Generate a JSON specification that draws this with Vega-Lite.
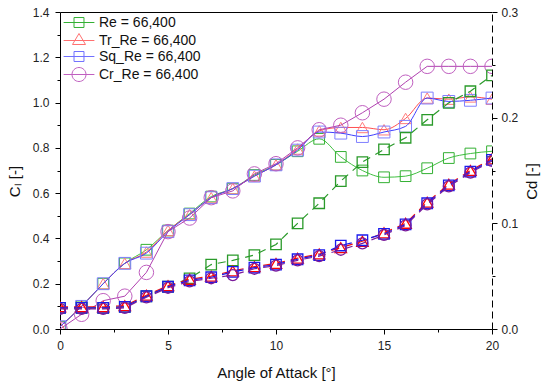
{
  "$schema": "https://vega.github.io/schema/vega-lite/v6.json",
  "width": 432,
  "height": 317,
  "autosize": {"type": "none"},
  "padding": {"left": 60, "top": 12, "right": 58, "bottom": 57},
  "background": "white",
  "config": {
    "view": {"stroke": null},
    "font": "Liberation Sans",
    "axis": {
      "grid": false,
      "domainColor": "#000",
      "domainWidth": 1,
      "tickColor": "#000",
      "labelColor": "#222",
      "labelFont": "Liberation Sans",
      "labelFontSize": 12,
      "titleFont": "Liberation Sans",
      "titleFontSize": 15,
      "titleFontWeight": "normal",
      "titleColor": "#111"
    }
  },
  "data": {
    "values": [
      {"s":"Re = 66,400","a":0,"cl":0.01,"cd":0.020},
      {"s":"Re = 66,400","a":1,"cl":0.10,"cd":0.020},
      {"s":"Re = 66,400","a":2,"cl":0.20,"cd":0.020},
      {"s":"Re = 66,400","a":3,"cl":0.29,"cd":0.021},
      {"s":"Re = 66,400","a":4,"cl":0.35,"cd":0.031},
      {"s":"Re = 66,400","a":5,"cl":0.435,"cd":0.040},
      {"s":"Re = 66,400","a":6,"cl":0.51,"cd":0.048},
      {"s":"Re = 66,400","a":7,"cl":0.585,"cd":0.061},
      {"s":"Re = 66,400","a":8,"cl":0.62,"cd":0.065},
      {"s":"Re = 66,400","a":9,"cl":0.68,"cd":0.070},
      {"s":"Re = 66,400","a":10,"cl":0.725,"cd":0.080},
      {"s":"Re = 66,400","a":11,"cl":0.785,"cd":0.100},
      {"s":"Re = 66,400","a":12,"cl":0.84,"cd":0.119},
      {"s":"Re = 66,400","a":13,"cl":0.76,"cd":0.140},
      {"s":"Re = 66,400","a":14,"cl":0.70,"cd":0.158},
      {"s":"Re = 66,400","a":15,"cl":0.67,"cd":0.170},
      {"s":"Re = 66,400","a":16,"cl":0.675,"cd":0.181},
      {"s":"Re = 66,400","a":17,"cl":0.71,"cd":0.198},
      {"s":"Re = 66,400","a":18,"cl":0.755,"cd":0.214},
      {"s":"Re = 66,400","a":19,"cl":0.775,"cd":0.225},
      {"s":"Re = 66,400","a":20,"cl":0.785,"cd":0.240},
      {"s":"Tr_Re = 66,400","a":0,"cl":0.01,"cd":0.021},
      {"s":"Tr_Re = 66,400","a":1,"cl":0.10,"cd":0.021},
      {"s":"Tr_Re = 66,400","a":2,"cl":0.20,"cd":0.021},
      {"s":"Tr_Re = 66,400","a":3,"cl":0.29,"cd":0.022},
      {"s":"Tr_Re = 66,400","a":4,"cl":0.34,"cd":0.032},
      {"s":"Tr_Re = 66,400","a":5,"cl":0.435,"cd":0.041},
      {"s":"Tr_Re = 66,400","a":6,"cl":0.505,"cd":0.047},
      {"s":"Tr_Re = 66,400","a":7,"cl":0.58,"cd":0.050},
      {"s":"Tr_Re = 66,400","a":8,"cl":0.62,"cd":0.055},
      {"s":"Tr_Re = 66,400","a":9,"cl":0.675,"cd":0.059},
      {"s":"Tr_Re = 66,400","a":10,"cl":0.725,"cd":0.062},
      {"s":"Tr_Re = 66,400","a":11,"cl":0.795,"cd":0.067},
      {"s":"Tr_Re = 66,400","a":12,"cl":0.875,"cd":0.071},
      {"s":"Tr_Re = 66,400","a":13,"cl":0.89,"cd":0.077},
      {"s":"Tr_Re = 66,400","a":14,"cl":0.89,"cd":0.083},
      {"s":"Tr_Re = 66,400","a":15,"cl":0.88,"cd":0.091},
      {"s":"Tr_Re = 66,400","a":16,"cl":0.93,"cd":0.100},
      {"s":"Tr_Re = 66,400","a":17,"cl":1.02,"cd":0.120},
      {"s":"Tr_Re = 66,400","a":18,"cl":1.015,"cd":0.137},
      {"s":"Tr_Re = 66,400","a":19,"cl":1.025,"cd":0.150},
      {"s":"Tr_Re = 66,400","a":20,"cl":1.015,"cd":0.161},
      {"s":"Sq_Re = 66,400","a":0,"cl":0.01,"cd":0.020},
      {"s":"Sq_Re = 66,400","a":1,"cl":0.10,"cd":0.020},
      {"s":"Sq_Re = 66,400","a":2,"cl":0.20,"cd":0.020},
      {"s":"Sq_Re = 66,400","a":3,"cl":0.29,"cd":0.021},
      {"s":"Sq_Re = 66,400","a":4,"cl":0.335,"cd":0.031},
      {"s":"Sq_Re = 66,400","a":5,"cl":0.43,"cd":0.040},
      {"s":"Sq_Re = 66,400","a":6,"cl":0.505,"cd":0.046},
      {"s":"Sq_Re = 66,400","a":7,"cl":0.58,"cd":0.049},
      {"s":"Sq_Re = 66,400","a":8,"cl":0.62,"cd":0.054},
      {"s":"Sq_Re = 66,400","a":9,"cl":0.675,"cd":0.058},
      {"s":"Sq_Re = 66,400","a":10,"cl":0.725,"cd":0.061},
      {"s":"Sq_Re = 66,400","a":11,"cl":0.79,"cd":0.066},
      {"s":"Sq_Re = 66,400","a":12,"cl":0.87,"cd":0.070},
      {"s":"Sq_Re = 66,400","a":13,"cl":0.865,"cd":0.079},
      {"s":"Sq_Re = 66,400","a":14,"cl":0.85,"cd":0.084},
      {"s":"Sq_Re = 66,400","a":15,"cl":0.87,"cd":0.090},
      {"s":"Sq_Re = 66,400","a":16,"cl":0.895,"cd":0.099},
      {"s":"Sq_Re = 66,400","a":17,"cl":1.02,"cd":0.119},
      {"s":"Sq_Re = 66,400","a":18,"cl":1.005,"cd":0.136},
      {"s":"Sq_Re = 66,400","a":19,"cl":1.01,"cd":0.149},
      {"s":"Sq_Re = 66,400","a":20,"cl":1.02,"cd":0.160},
      {"s":"Cr_Re = 66,400","a":0,"cl":0.0,"cd":0.019},
      {"s":"Cr_Re = 66,400","a":1,"cl":0.065,"cd":0.019},
      {"s":"Cr_Re = 66,400","a":2,"cl":0.125,"cd":0.019},
      {"s":"Cr_Re = 66,400","a":3,"cl":0.145,"cd":0.020},
      {"s":"Cr_Re = 66,400","a":4,"cl":0.25,"cd":0.030},
      {"s":"Cr_Re = 66,400","a":5,"cl":0.43,"cd":0.039},
      {"s":"Cr_Re = 66,400","a":6,"cl":0.49,"cd":0.045},
      {"s":"Cr_Re = 66,400","a":7,"cl":0.58,"cd":0.048},
      {"s":"Cr_Re = 66,400","a":8,"cl":0.61,"cd":0.051},
      {"s":"Cr_Re = 66,400","a":9,"cl":0.685,"cd":0.057},
      {"s":"Cr_Re = 66,400","a":10,"cl":0.73,"cd":0.060},
      {"s":"Cr_Re = 66,400","a":11,"cl":0.80,"cd":0.065},
      {"s":"Cr_Re = 66,400","a":12,"cl":0.88,"cd":0.069},
      {"s":"Cr_Re = 66,400","a":13,"cl":0.90,"cd":0.075},
      {"s":"Cr_Re = 66,400","a":14,"cl":0.955,"cd":0.081},
      {"s":"Cr_Re = 66,400","a":15,"cl":1.015,"cd":0.089},
      {"s":"Cr_Re = 66,400","a":16,"cl":1.09,"cd":0.098},
      {"s":"Cr_Re = 66,400","a":17,"cl":1.16,"cd":0.118},
      {"s":"Cr_Re = 66,400","a":18,"cl":1.16,"cd":0.135},
      {"s":"Cr_Re = 66,400","a":19,"cl":1.16,"cd":0.148},
      {"s":"Cr_Re = 66,400","a":20,"cl":1.16,"cd":0.159}
    ]
  },
  "layer": [
    {
      "encoding": {
        "x": {
          "field": "a", "type": "quantitative",
          "scale": {"domain": [0, 20], "nice": false, "zero": false},
          "axis": {
            "orient": "bottom",
            "title": "Angle of Attack [°]",
            "values": [0, 2.5, 5, 7.5, 10, 12.5, 15, 17.5, 20],
            "labelExpr": "datum.value % 5 === 0 ? format(datum.value, 'd') : ''",
            "tickSize": {"condition": {"test": "datum.value % 5 !== 0", "value": 3}, "value": 5},
            "labelPadding": 6,
            "labelFlush": false,
            "titleBaseline": "middle",
            "titleY": 43
          }
        },
        "y": {
          "field": "cl", "type": "quantitative",
          "scale": {"domain": [0, 1.4], "nice": false, "zero": false},
          "axis": {
            "orient": "left",
            "title": "Cₗ [-]",
            "values": [0, 0.1, 0.2, 0.3, 0.4, 0.5, 0.6, 0.7, 0.8, 0.9, 1.0, 1.1, 1.2, 1.3, 1.4],
            "labelExpr": "round(datum.value * 10) % 2 === 0 ? format(datum.value, '.1f') : ''",
            "tickSize": {"condition": {"test": "round(datum.value * 10) % 2 !== 0", "value": 3}, "value": 5},
            "labelPadding": 6,
            "labelFlush": false,
            "titleBaseline": "middle",
            "titleAngle": 270,
            "titleX": -46,
            "titleY": 169
          }
        }
      },
      "layer": [
        {
          "transform": [{"filter": "datum.s === 'Re = 66,400'"}],
          "mark": {"type": "line", "color": "#40c040", "strokeWidth": 1, "interpolate": "monotone", "clip": true,
            "point": {"shape": "square", "filled": false, "size": 115, "color": "#33b033", "strokeWidth": 1, "clip": true}}
        },
        {
          "transform": [{"filter": "datum.s === 'Tr_Re = 66,400'"}],
          "mark": {"type": "line", "color": "#ff5050", "strokeWidth": 1, "interpolate": "monotone", "clip": true,
            "point": {"shape": "triangle-up", "filled": false, "size": 145, "color": "#ff7c7c", "strokeWidth": 1, "clip": true}}
        },
        {
          "transform": [{"filter": "datum.s === 'Sq_Re = 66,400'"}],
          "mark": {"type": "line", "color": "#4040ff", "strokeWidth": 1, "interpolate": "monotone", "clip": true,
            "point": {"shape": "square", "filled": false, "size": 140, "color": "#8080ff", "strokeWidth": 1, "clip": true}}
        },
        {
          "transform": [{"filter": "datum.s === 'Cr_Re = 66,400'"}],
          "mark": {"type": "line", "color": "#b040b0", "strokeWidth": 1, "clip": true,
            "point": {"shape": "circle", "filled": false, "size": 210, "color": "#c060c0", "strokeWidth": 1, "clip": true}}
        },
        {
          "mark": {"type": "point", "filled": false, "opacity": 0, "size": 196, "strokeWidth": 1},
          "encoding": {
            "color": {
              "field": "s", "type": "nominal",
              "scale": {"domain": ["Re = 66,400", "Tr_Re = 66,400", "Sq_Re = 66,400", "Cr_Re = 66,400"],
                        "range": ["#33b033", "#ff7070", "#7070ff", "#c060c0"]},
              "legend": {
                "title": null, "orient": "none", "legendX": 11.5, "legendY": 3,
                "padding": 0, "rowPadding": 1, "labelOffset": 12.5,
                "labelFont": "Liberation Sans", "labelFontSize": 14, "labelColor": "#111",
                "symbolSize": 196, "symbolStrokeWidth": 1, "symbolOpacity": 1
              }
            },
            "shape": {
              "field": "s", "type": "nominal",
              "scale": {"domain": ["Re = 66,400", "Tr_Re = 66,400", "Sq_Re = 66,400", "Cr_Re = 66,400"],
                        "range": [
                          "M-2.2,0H2.2M-0.71,-0.71H0.71V0.71H-0.71Z",
                          "M-2.2,0H2.2M0,-1L0.93,0.57H-0.93Z",
                          "M-2.2,0H2.2M-0.71,-0.71H0.71V0.71H-0.71Z",
                          "M-2.2,0H2.2M-1,0A1,1 0 1,1 1,0A1,1 0 1,1 -1,0Z"
                        ]}
            }
          }
        }
      ]
    },
    {
      "encoding": {
        "x": {
          "field": "a", "type": "quantitative",
          "scale": {"domain": [0, 20], "nice": false, "zero": false},
          "axis": {"orient": "top", "title": null, "labels": false, "ticks": false, "domain": true}
        },
        "y": {
          "field": "cd", "type": "quantitative",
          "scale": {"domain": [0, 0.3], "nice": false, "zero": false},
          "axis": {
            "orient": "right",
            "title": "Cd [-]",
            "values": [0, 0.05, 0.1, 0.15, 0.2, 0.25, 0.3],
            "labelExpr": "round(datum.value * 20) % 2 === 0 ? format(datum.value, '.1f') : ''",
            "tickSize": {"condition": {"test": "round(datum.value * 20) % 2 !== 0", "value": 3}, "value": 5},
            "domainDash": [7, 4],
            "labelPadding": 4,
            "labelFlush": false,
            "titleBaseline": "middle",
            "titleAngle": 270,
            "titleX": 39,
            "titleY": 169
          }
        }
      },
      "layer": [
        {
          "transform": [{"filter": "datum.s === 'Re = 66,400'"}],
          "mark": {"type": "line", "color": "#2a9a2a", "strokeWidth": 1.2, "strokeDash": [8, 6], "clip": true,
            "point": {"shape": "square", "filled": false, "size": 110, "color": "#2a9a2a", "strokeWidth": 1.3, "clip": true}}
        },
        {
          "transform": [{"filter": "datum.s === 'Tr_Re = 66,400'"}],
          "mark": {"type": "line", "color": "#ee1010", "strokeWidth": 1.2, "strokeDash": [8, 6], "clip": true,
            "point": {"shape": "triangle-up", "filled": false, "size": 130, "color": "#ff0000", "strokeWidth": 1.3, "clip": true}}
        },
        {
          "transform": [{"filter": "datum.s === 'Sq_Re = 66,400'"}],
          "mark": {"type": "line", "color": "#1a1aee", "strokeWidth": 1.2, "strokeDash": [8, 6], "clip": true,
            "point": {"shape": "square", "filled": false, "size": 110, "color": "#1a1aee", "strokeWidth": 1.3, "clip": true}}
        },
        {
          "transform": [{"filter": "datum.s === 'Cr_Re = 66,400'"}],
          "mark": {"type": "line", "color": "#7a1a9a", "strokeWidth": 1.2, "strokeDash": [8, 6], "clip": true,
            "point": {"shape": "circle", "filled": false, "size": 120, "color": "#7a1a9a", "strokeWidth": 1.3, "clip": true}}
        }
      ]
    }
  ],
  "resolve": {"scale": {"y": "independent"}, "axis": {"x": "independent"}}
}
